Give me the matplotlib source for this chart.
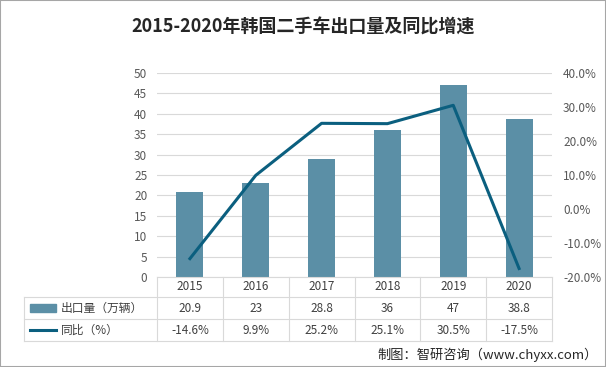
import numpy as np
import matplotlib.pyplot as plt
import matplotlib.transforms as mtrans
from matplotlib.patches import Rectangle

plt.rcParams['font.family'] = ['Noto Sans CJK SC', 'DejaVu Sans']

# Daten
jahre = ['2015', '2016', '2017', '2018', '2019', '2020']
export = [20.9, 23, 28.8, 36, 47, 38.8]
tongbi = [-14.6, 9.9, 25.2, 25.1, 30.5, -17.5]
export_txt = ['20.9', '23', '28.8', '36', '47', '38.8']
tongbi_txt = ['-14.6%', '9.9%', '25.2%', '25.1%', '30.5%', '-17.5%']

bar_farbe = '#5b8fa6'
linie_farbe = '#0b5f7f'
grau = '#595959'
gitter = '#d9d9d9'

fig = plt.figure(figsize=(6.06, 3.67), dpi=100)
ax = fig.add_axes([157/606, 1-277/367, 395/606, 204/367])
ax2 = ax.twinx()

x = np.arange(len(jahre))
ax.bar(x, export, width=0.41, color=bar_farbe, zorder=2)
ax.set_xlim(-0.5, len(jahre)-0.5)
ax.set_ylim(0, 50)
ax.set_yticks(np.arange(0, 51, 5))
ax.grid(axis='y', color=gitter, lw=0.8, zorder=0)
ax.set_axisbelow(True)
ax.set_xticks([])
ax.tick_params(axis='y', length=0, labelsize=8.5, labelcolor=grau, pad=7)

ax2.plot(x, tongbi, color=linie_farbe, lw=2.2, zorder=3)
ax2.set_ylim(-20, 40)
ax2.set_yticks(np.arange(-20, 41, 10))
ax2.set_yticklabels([f'{v:.1f}%' for v in np.arange(-20, 41, 10)])
ax2.tick_params(axis='y', length=0, labelsize=8.5, labelcolor=grau, pad=8)

for a in (ax, ax2):
    for s in a.spines.values():
        s.set_visible(False)

# Tabelle unter dem Diagramm
tr = mtrans.blended_transform_factory(ax.transData, ax.transAxes)
h = 204.0
y0, y1, y2, y3 = 0, -20/h, -42/h, -64/h
xl = -0.5 - 133/65.8
xr = len(jahre) - 0.5
lk = dict(color=gitter, lw=0.8, clip_on=False, transform=tr)
ax.plot([-0.5, xr], [y0, y0], **lk)
ax.plot([xl, xr], [y1, y1], **lk)
ax.plot([xl, xr], [y2, y2], **lk)
ax.plot([xl, xr], [y3, y3], **lk)
ax.plot([xl, xl], [y1, y3], **lk)
for i in range(len(jahre) + 1):
    ax.plot([i-0.5, i-0.5], [y0, y3], **lk)

tk = dict(transform=tr, ha='center', va='center', fontsize=8.5, color='#404040')
for i in range(len(jahre)):
    ax.text(i, (y0+y1)/2, jahre[i], **tk)
    ax.text(i, (y1+y2)/2, export_txt[i], **tk)
    ax.text(i, (y2+y3)/2, tongbi_txt[i], **tk)

# Legendensymbole
px = 1/65.8
ax.add_patch(Rectangle((xl + 6*px, (y1+y2)/2 - 4/h), 26*px, 8/h, transform=tr,
                       color=bar_farbe, clip_on=False))
ax.plot([xl + 6*px, xl + 32*px], [(y2+y3)/2]*2, color=linie_farbe, lw=2.2,
        clip_on=False, transform=tr)
ax.text(xl + 37*px, (y1+y2)/2, '出口量（万辆）', transform=tr, ha='left',
        va='center', fontsize=8.5, color='#404040')
ax.text(xl + 37*px, (y2+y3)/2, '同比（%）', transform=tr, ha='left',
        va='center', fontsize=8.5, color='#404040')

# Titel und Quelle
fig.text(0.5, 1-27/367, '2015-2020年韩国二手车出口量及同比增速', ha='center',
         va='center', fontsize=13, fontweight='bold', color='#262626')
fig.text(598/606, 1-355/367, '制图：智研咨询（www.chyxx.com）', ha='right',
         va='center', fontsize=9.5, color='#262626')

# Rahmen
fig.patches.append(Rectangle((0, 0), 1, 1, transform=fig.transFigure, fill=False,
                             edgecolor='#a6a6a6', lw=1.5))

plt.savefig('out.png', dpi=100)
